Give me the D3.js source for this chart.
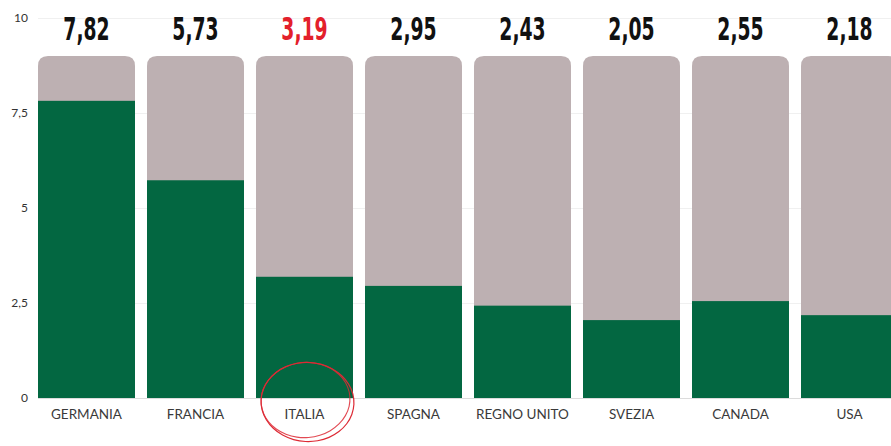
<!DOCTYPE html>
<html>
<head>
<meta charset="utf-8">
<script src="https://cdn.jsdelivr.net/npm/d3@7"></script>
<style>
  body { margin: 0; background: #fff; }
  svg { display: block; }
</style>
</head>
<body>
<svg id="chart" width="891" height="446"></svg>
<script>
// dati
var paesi = ["GERMANIA", "FRANCIA", "ITALIA", "SPAGNA", "REGNO UNITO", "SVEZIA", "CANADA", "USA"];
var valori = [7.82, 5.73, 3.19, 2.95, 2.43, 2.05, 2.55, 2.18];
var etichette = ["7,82", "5,73", "3,19", "2,95", "2,43", "2,05", "2,55", "2,18"];
var tickValori = [0, 2.5, 5, 7.5, 10];
var tickEtichette = ["0", "2,5", "5", "7,5", "10"];
var fondo = 9;
var evidenziato = "ITALIA";

var svg = d3.select("#chart");

var y = d3.scaleLinear().domain([0, 10]).range([398, 18]);
var x = d3.scaleBand().domain(paesi).range([38, 898]).paddingInner(12 / 109).paddingOuter(0);

// griglia
svg.append("g").selectAll("line")
  .data(tickValori)
  .enter().append("line")
  .attr("x1", 38).attr("x2", 891)
  .attr("y1", function(d) { return y(d) + 0.5; })
  .attr("y2", function(d) { return y(d) + 0.5; })
  .style("stroke", function(d) { return d === 0 ? "#dcdcdc" : "#f0f0f0"; })
  .style("stroke-width", 1);

// asse y
svg.append("g").selectAll("text")
  .data(tickValori)
  .enter().append("text")
  .attr("x", 28)
  .attr("y", function(d) { return y(d) + 4; })
  .attr("text-anchor", "end")
  .style("font-family", "Lato, 'Noto Sans', sans-serif")
  .style("font-size", "12px")
  .style("fill", "#333")
  .text(function(d, i) { return tickEtichette[i]; });

// barre di fondo (arrotondate in alto)
var r = 10;
svg.append("g").selectAll("path")
  .data(paesi)
  .enter().append("path")
  .attr("d", function(d) {
    var x0 = x(d), x1 = x(d) + x.bandwidth(), y0 = y(0), y1 = y(fondo);
    return "M" + x0 + "," + y0 +
      "V" + (y1 + r) +
      "Q" + x0 + "," + y1 + " " + (x0 + r) + "," + y1 +
      "H" + (x1 - r) +
      "Q" + x1 + "," + y1 + " " + x1 + "," + (y1 + r) +
      "V" + y0 + "Z";
  })
  .style("fill", "#bdb0b2");

// barre valori
svg.append("g").selectAll("rect")
  .data(valori)
  .enter().append("rect")
  .attr("x", function(d, i) { return x(paesi[i]); })
  .attr("width", x.bandwidth())
  .attr("y", function(d) { return y(d); })
  .attr("height", function(d) { return y(0) - y(d); })
  .style("fill", "#036741");

// etichette valori
svg.append("g").selectAll("text")
  .data(valori)
  .enter().append("text")
  .attr("transform", function(d, i) {
    return "translate(" + (x(paesi[i]) + x.bandwidth() / 2) + ",39.5) scale(0.72,1.1)";
  })
  .attr("text-anchor", "middle")
  .style("font-family", "'Liberation Sans Narrow', 'DejaVu Sans Condensed', sans-serif")
  .style("font-weight", "bold")
  .style("font-size", "29px")
  .style("fill", function(d, i) { return paesi[i] === evidenziato ? "#e3202b" : "#111"; })
  .text(function(d, i) { return etichette[i]; });

// etichette categorie
svg.append("g").selectAll("text")
  .data(paesi)
  .enter().append("text")
  .attr("x", function(d) { return x(d) + x.bandwidth() / 2; })
  .attr("y", 418.5)
  .attr("text-anchor", "middle")
  .style("font-family", "Lato, 'Noto Sans', sans-serif")
  .style("font-size", "13.5px")
  .style("fill", "#3a3a3a")
  .text(function(d) { return d; });

// cerchio a mano su ITALIA
var cx = x(evidenziato) + x.bandwidth() / 2 + 3, cy = 402;
var cerchio = d3.line().curve(d3.curveBasisClosed);
function giro(rx, ry, rot, dx, dy) {
  var pts = [];
  for (var k = 0; k < 24; k++) {
    var a = k / 24 * Math.PI * 2;
    var px = rx * Math.cos(a), py = ry * Math.sin(a);
    pts.push([cx + dx + px * Math.cos(rot) - py * Math.sin(rot),
              cy + dy + px * Math.sin(rot) + py * Math.cos(rot)]);
  }
  return pts;
}
svg.append("path")
  .attr("d", cerchio(giro(47, 40, 0.05, 0, 0)))
  .style("fill", "none").style("stroke", "#dd2a35").style("stroke-width", 1.2);
svg.append("path")
  .attr("d", cerchio(giro(45, 38, -0.08, -2, -2)))
  .style("fill", "none").style("stroke", "#dd2a35").style("stroke-width", 1.1).style("opacity", 0.85);
</script>
</body>
</html>
